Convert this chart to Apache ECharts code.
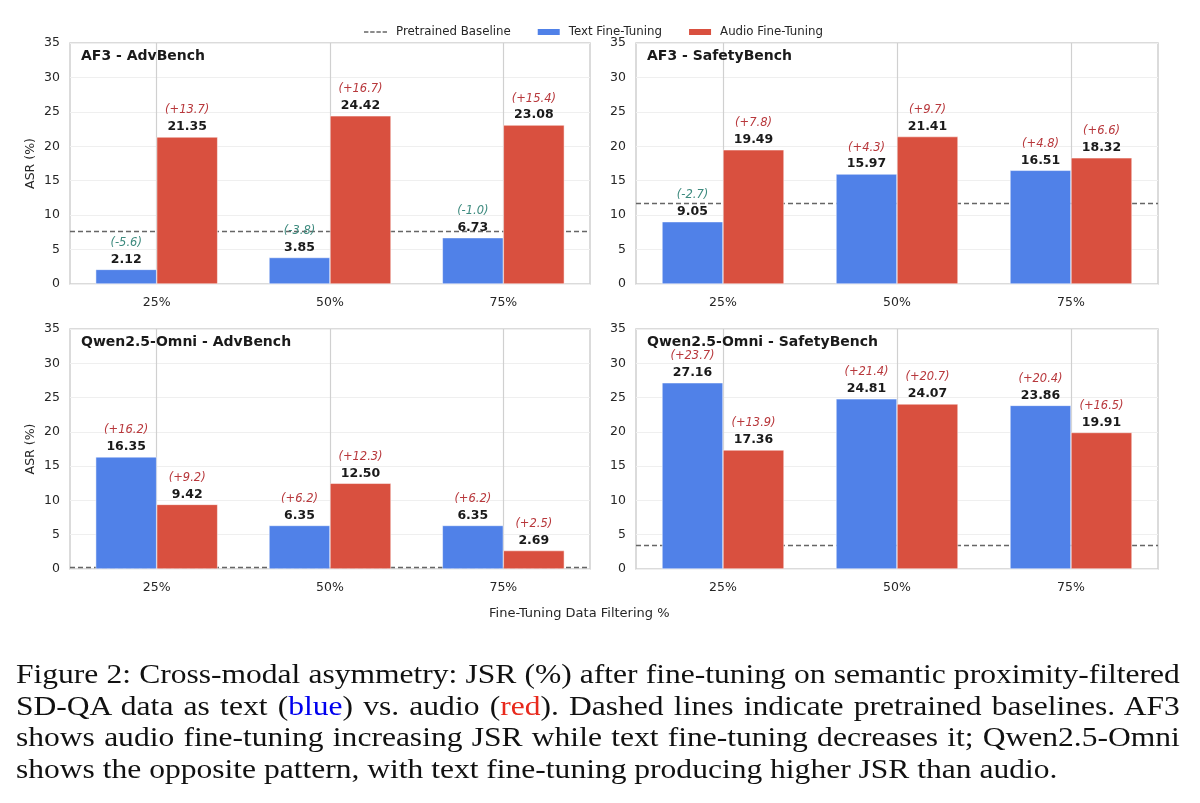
<!DOCTYPE html>
<html>
<head>
<meta charset="utf-8">
<script src="https://cdn.jsdelivr.net/npm/echarts@6/dist/echarts.min.js"></script>
<style>
  html, body { margin: 0; padding: 0; background: #fff; }
  #wrap { position: relative; width: 1200px; height: 803px; overflow: hidden; }
  #chart { position: absolute; left: 0; top: 0; width: 1200px; height: 803px; }
  /* caption: Times-like font widened to roughly match the Palatino of the paper */
  #caption {
    position: absolute; left: 16px; top: 659px; width: 978px;
    transform: scaleX(1.19); transform-origin: 0 0;
    font-family: 'Liberation Serif', serif; font-size: 26.5px; line-height: 31.5px; color: #111;
  }
  #caption div { white-space: nowrap; text-align: justify; text-align-last: justify; }
  #caption div.last { text-align-last: left; }
</style>
</head>
<body>
<div id="wrap">
  <div id="chart"></div>
  <div id="caption">
    <div>Figure 2: Cross-modal asymmetry: JSR (%) after fine-tuning on semantic proximity-filtered</div>
    <div>SD-QA data as text (<span style="color:#0000ee">blue</span>) vs. audio (<span style="color:#e8291c">red</span>). Dashed lines indicate pretrained baselines. AF3</div>
    <div>shows audio fine-tuning increasing JSR while text fine-tuning decreases it; Qwen2.5-Omni</div>
    <div class="last">shows the opposite pattern, with text fine-tuning producing higher JSR than audio.</div>
  </div>
</div>
<script>
// categories (x ticks)
const categories = ['25%', '50%', '75%'];

// panel titles
const panelTitles = ['AF3 - AdvBench', 'AF3 - SafetyBench', 'Qwen2.5-Omni - AdvBench', 'Qwen2.5-Omni - SafetyBench'];

// pretrained baselines (dashed lines)
const baselines = [7.7, 11.7, 0.19, 3.46];

// AF3 - AdvBench
const af3AdvText = [2.12, 3.85, 6.73];
const af3AdvAudio = [21.35, 24.42, 23.08];
const af3AdvTextDelta = ['-5.6', '-3.8', '-1.0'];
const af3AdvAudioDelta = ['+13.7', '+16.7', '+15.4'];

// AF3 - SafetyBench
const af3SafeText = [9.05, 15.97, 16.51];
const af3SafeAudio = [19.49, 21.41, 18.32];
const af3SafeTextDelta = ['-2.7', '+4.3', '+4.8'];
const af3SafeAudioDelta = ['+7.8', '+9.7', '+6.6'];

// Qwen2.5-Omni - AdvBench
const qwenAdvText = [16.35, 6.35, 6.35];
const qwenAdvAudio = [9.42, 12.50, 2.69];
const qwenAdvTextDelta = ['+16.2', '+6.2', '+6.2'];
const qwenAdvAudioDelta = ['+9.2', '+12.3', '+2.5'];

// Qwen2.5-Omni - SafetyBench
const qwenSafeText = [27.16, 24.81, 23.86];
const qwenSafeAudio = [17.36, 24.07, 19.91];
const qwenSafeTextDelta = ['+23.7', '+21.4', '+20.4'];
const qwenSafeAudioDelta = ['+13.9', '+20.7', '+16.5'];

const panels = [
    { text: af3AdvText, audio: af3AdvAudio, textDelta: af3AdvTextDelta, audioDelta: af3AdvAudioDelta },
    { text: af3SafeText, audio: af3SafeAudio, textDelta: af3SafeTextDelta, audioDelta: af3SafeAudioDelta },
    { text: qwenAdvText, audio: qwenAdvAudio, textDelta: qwenAdvTextDelta, audioDelta: qwenAdvAudioDelta },
    { text: qwenSafeText, audio: qwenSafeAudio, textDelta: qwenSafeTextDelta, audioDelta: qwenSafeAudioDelta }
];

const colors = {
    text: '#5081e8',
    audio: '#d9503f',
    pos: '#b8383c',
    neg: '#3d8a7e',
    grid: '#d0d0d0',
    base: '#666666',
    ink: '#262626'
};
const font = 'DejaVu Sans';

// grid boxes: [left, top, width, height]
const boxes = [
    [70, 43, 520, 241],
    [636, 43, 522, 241],
    [70, 329, 520, 240],
    [636, 329, 522, 240]
];

// dashed legend key (tiny dots at y=0 and y=8 keep the key box 8px tall)
const dashIcon = 'path://M0,0L0.01,0L0.01,0.01Z M0,3.3h4.4v1.4h-4.4z M6.2,3.3h4.4v1.4h-4.4z M12.4,3.3h4.4v1.4h-4.4z M18.6,3.3h4.4v1.4h-4.4z M24,8L24.01,8L24.01,7.99Z';

const chart = echarts.init(document.getElementById('chart'), null, { renderer: 'canvas' });

function barLabel(deltas) {
    return {
        show: true,
        position: 'top',
        distance: 2,
        formatter(p) {
            const d = deltas[p.dataIndex];
            const key = d.charAt(0) === '-' ? 'n' : 'p';
            return `{${key}|(${d})}\n{v|${p.value.toFixed(2)}}`;
        },
        rich: {
            p: { fontFamily: font, fontStyle: 'italic', fontSize: 11.5, color: colors.pos, lineHeight: 17 },
            n: { fontFamily: font, fontStyle: 'italic', fontSize: 11.5, color: colors.neg, lineHeight: 17 },
            v: { fontFamily: font, fontWeight: 'bold', fontSize: 12.5, color: '#1a1a1a', lineHeight: 16 }
        }
    };
}

const grid = [], xAxis = [], yAxis = [], series = [], title = [];

boxes.forEach((b, i) => {
    grid.push({
        left: b[0], top: b[1], width: b[2], height: b[3],
        show: true, borderColor: colors.grid, borderWidth: 1.5, backgroundColor: '#fff'
    });
    xAxis.push({
        type: 'category', gridIndex: i, data: categories,
        axisLine: { show: false }, axisTick: { show: false },
        axisLabel: { color: colors.ink, fontSize: 12.5, fontFamily: font, margin: 12 },
        splitLine: { show: false }
    });
    yAxis.push({
        type: 'value', gridIndex: i, min: 0, max: 35, interval: 5,
        name: i % 2 === 0 ? 'ASR (%)' : '',
        nameLocation: 'middle', nameGap: 33,
        nameTextStyle: { color: colors.ink, fontSize: 12.5, fontFamily: font },
        axisLine: { show: false }, axisTick: { show: false },
        axisLabel: { color: colors.ink, fontSize: 12.5, fontFamily: font, margin: 10 },
        splitLine: { show: true, lineStyle: { color: '#efefef', width: 1 } }
    });
    title.push({
        text: panelTitles[i], left: b[0] + 11, top: b[1] + 6, padding: 0,
        textStyle: { fontFamily: font, fontSize: 14, fontWeight: 'bold', color: '#1a1a1a' }
    });

    const p = panels[i];
    // vertical grid lines at the category centres
    series.push({
        type: 'line', xAxisIndex: i, yAxisIndex: i, data: [null, null, null],
        symbol: 'none', silent: true,
        markLine: {
            z: 1, silent: true, symbol: 'none', label: { show: false },
            lineStyle: { color: colors.grid, width: 1.2, type: 'solid' },
            data: categories.map(c => ({ xAxis: c }))
        }
    });
    series.push({
        name: 'Pretrained Baseline', type: 'line', xAxisIndex: i, yAxisIndex: i,
        data: [null, null, null], symbol: 'none',
        lineStyle: { color: colors.base, width: 1.4, type: [5, 3] },
        itemStyle: { color: colors.base },
        markLine: {
            z: 1, silent: true, symbol: 'none', label: { show: false },
            lineStyle: { color: colors.base, width: 1.4, type: [5, 3] },
            data: [{ yAxis: baselines[i] }]
        }
    });
    series.push({
        name: 'Text Fine-Tuning', type: 'bar', xAxisIndex: i, yAxisIndex: i, z: 3,
        data: p.text, barWidth: 61, barGap: '0%',
        itemStyle: { color: colors.text, borderColor: '#fff', borderWidth: 0.5 },
        label: barLabel(p.textDelta)
    });
    series.push({
        name: 'Audio Fine-Tuning', type: 'bar', xAxisIndex: i, yAxisIndex: i, z: 3,
        data: p.audio, barWidth: 61, barGap: '0%',
        itemStyle: { color: colors.audio, borderColor: '#fff', borderWidth: 0.5 },
        label: barLabel(p.audioDelta)
    });
});

title.push({
    text: 'Fine-Tuning Data Filtering %', left: 489, top: 607, padding: 0,
    textStyle: { fontFamily: font, fontSize: 13, fontWeight: 'normal', color: colors.ink }
});

const option = {
    backgroundColor: '#fff',
    animation: false,
    title,
    legend: {
        top: 21, left: 359, itemWidth: 24, itemHeight: 8, itemGap: 25,
        textStyle: { color: colors.ink, fontSize: 11.8, fontFamily: font, padding: [0, 0, 0, 3] },
        data: [
            { name: 'Pretrained Baseline', icon: dashIcon },
            { name: 'Text Fine-Tuning', icon: 'rect' },
            { name: 'Audio Fine-Tuning', icon: 'rect' }
        ]
    },
    grid,
    xAxis,
    yAxis,
    series
};

chart.setOption(option);
window.addEventListener('resize', () => chart.resize());
</script>
</body>
</html>
